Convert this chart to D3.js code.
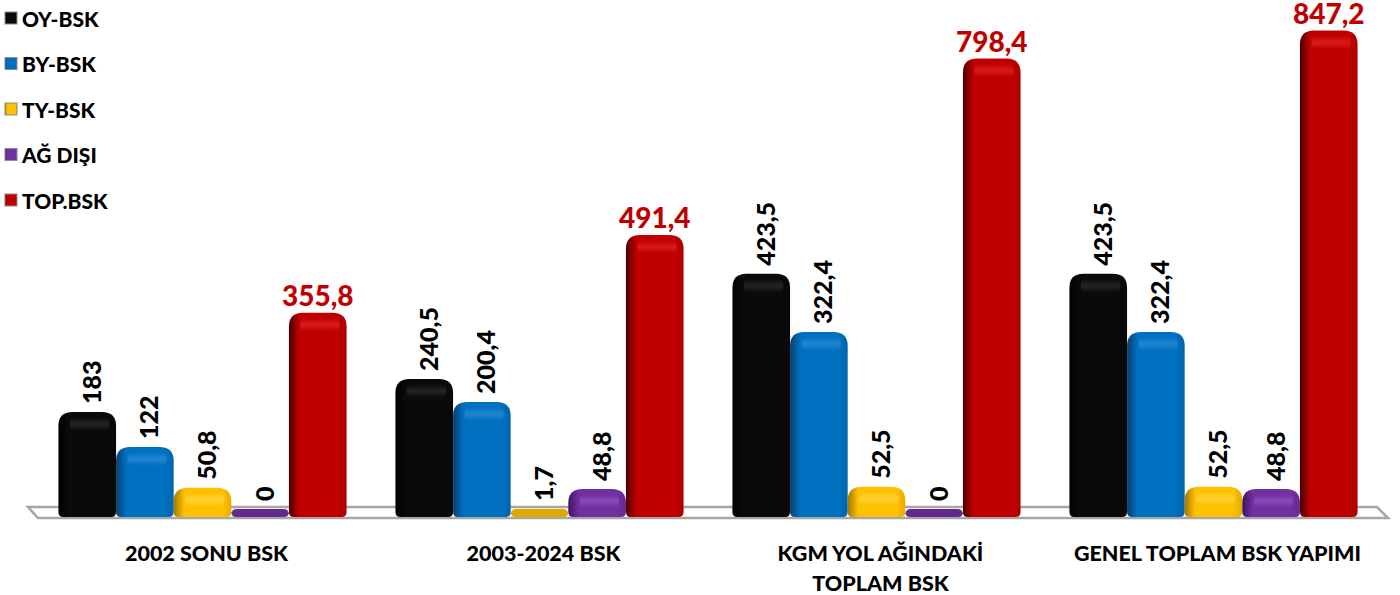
<!DOCTYPE html>
<html>
<head>
<meta charset="utf-8">
<script src="https://cdn.jsdelivr.net/npm/d3@7"></script>
<style>
  body { margin: 0; background: #fff; }
  svg { font-family: Lato, "Open Sans", sans-serif; font-weight: 900; }
  .value { font-size: 25px; fill: #000; }
  .value-total { font-size: 28px; fill: #c00000; }
  .category { font-size: 21.5px; fill: #000; }
  .legend-label { font-size: 21px; fill: #000; }
</style>
</head>
<body>
<div id="wrapper"></div>
<script>
// Chart data
const categories = [
  ["2002 SONU BSK"],
  ["2003-2024 BSK"],
  ["KGM YOL AĞINDAKİ", "TOPLAM BSK"],
  ["GENEL TOPLAM BSK YAPIMI"],
];
const series = ["OY-BSK", "BY-BSK", "TY-BSK", "AĞ DIŞI", "TOP.BSK"];
const oyBsk = [183, 240.5, 423.5, 423.5];
const byBsk = [122, 200.4, 322.4, 322.4];
const tyBsk = [50.8, 1.7, 52.5, 52.5];
const agDisi = [0, 48.8, 0, 48.8];
const topBsk = [355.8, 491.4, 798.4, 847.2];
const seriesValues = [oyBsk, byBsk, tyBsk, agDisi, topBsk];

const seriesColors = {
  "OY-BSK": { base: "#0a0a0a", dark: "#000000", light: "#3a3a3a" },
  "BY-BSK": { base: "#0070c0", dark: "#0a3f6e", light: "#3a98e0" },
  "TY-BSK": { base: "#ffc000", dark: "#a07800", light: "#ffe060" },
  "AĞ DIŞI": { base: "#7030a0", dark: "#3e1560", light: "#9a5ccc" },
  "TOP.BSK": { base: "#c00000", dark: "#4a0000", light: "#f03030" },
};

const width = 1400;
const height = 595;
const baseY = 517;

const svg = d3.select("#wrapper")
  .append("svg")
    .attr("width", width)
    .attr("height", height);

const defs = svg.append("defs");

// gradients: horizontal shading for the bar body, vertical one for the top cap
series.forEach((s, i) => {
  const c = seriesColors[s];
  const g = defs.append("linearGradient")
    .attr("id", `body-${i}`)
    .attr("x1", "0%").attr("x2", "100%");
  [[0, c.dark], [0.18, c.base], [0.85, c.base], [1, d3.color(c.base).darker(0.3)]]
    .forEach(([o, col]) => g.append("stop").attr("offset", o).attr("stop-color", col));

  const cap = defs.append("linearGradient")
    .attr("id", `cap-${i}`)
    .attr("x1", "0%").attr("x2", "0%").attr("y1", "0%").attr("y2", "100%");
  cap.append("stop").attr("offset", 0).attr("stop-color", c.light).attr("stop-opacity", 0.0);
  cap.append("stop").attr("offset", 0.5).attr("stop-color", c.light).attr("stop-opacity", 0.55);
  cap.append("stop").attr("offset", 1).attr("stop-color", c.light).attr("stop-opacity", 0.0);
});

// Scales
const x0 = d3.scaleBand()
  .domain(d3.range(categories.length))
  .range([34, 1382])
  .paddingInner(0.145)
  .paddingOuter(0.0725);

const x1 = d3.scaleBand()
  .domain(series)
  .range([0, x0.bandwidth()]);

const y = d3.scaleLinear()
  .domain([0, 850])
  .range([baseY, 29]);

// Floor
const floorLeft = x0.range()[0] - 6;
const floorRight = x0.range()[1] - 5;
svg.append("path")
  .attr("d", `M${floorLeft},${baseY - 10} L${floorRight},${baseY - 10} L${floorRight + 11},${baseY + 1} L${floorLeft + 10},${baseY + 1} Z`)
  .attr("fill", "#fff")
  .attr("stroke", "#a6a6a6")
  .attr("stroke-width", 2.5);

function barPath(x, top, w, bottom) {
  const h = bottom - top;
  const r = Math.min(14, h * 0.7);
  const rb = 5;
  return `M${x},${bottom - rb} L${x},${top + r} Q${x},${top} ${x + r},${top} ` +
    `L${x + w - r},${top} Q${x + w},${top} ${x + w},${top + r} ` +
    `L${x + w},${bottom - rb} Q${x + w},${bottom} ${x + w - rb},${bottom} ` +
    `L${x + rb},${bottom} Q${x},${bottom} ${x},${bottom - rb} Z`;
}

const barData = [];
categories.forEach((cat, ci) => {
  series.forEach((s, si) => {
    barData.push({ ci, si, s, value: seriesValues[si][ci] });
  });
});

const minBarHeight = 8;
const barTop = d => Math.min(y(d.value), baseY - minBarHeight);
const barX = d => x0(d.ci) + x1(d.s);

const bars = svg.append("g").selectAll("g")
  .data(barData)
  .join("g");

// very short bars look like a flat darker disc in the original
bars.append("path")
  .attr("d", d => barPath(barX(d), barTop(d), x1.bandwidth(), baseY))
  .attr("fill", d => baseY - y(d.value) < minBarHeight
    ? d3.color(seriesColors[d.s].base).darker(0.35)
    : `url(#body-${d.si})`);

// soft highlight just under the rounded top
bars.filter(d => baseY - barTop(d) > 24)
  .append("rect")
    .attr("x", d => barX(d) + x1.bandwidth() * 0.2)
    .attr("y", d => barTop(d) + 5)
    .attr("width", x1.bandwidth() * 0.68)
    .attr("height", 14)
    .attr("rx", 5)
    .attr("fill", d => `url(#cap-${d.si})`);

// Value labels: rotated for the first four series, horizontal red for total
bars.filter(d => d.s !== "TOP.BSK")
  .append("text")
    .attr("class", "value")
    .attr("transform", d => `translate(${barX(d) + x1.bandwidth() / 2 + 7},${barTop(d) - 8}) rotate(-90)`)
    .attr("dominant-baseline", "middle")
    .text(d => d3.format(",")(d.value).replace(".", ","));

bars.filter(d => d.s === "TOP.BSK")
  .append("text")
    .attr("class", "value-total")
    .attr("x", d => barX(d) + x1.bandwidth() / 2)
    .attr("y", d => barTop(d) - 7)
    .attr("text-anchor", "middle")
    .text(d => d3.format(".1f")(d.value).replace(".", ","));

// Category labels
svg.append("g").selectAll("text")
  .data(categories)
  .join("text")
    .attr("class", "category")
    .attr("x", (d, i) => x0(i) + x0.bandwidth() / 2 + 4)
    .attr("y", 561)
    .attr("text-anchor", "middle")
    .selectAll("tspan")
    .data(d => d)
    .join("tspan")
      .attr("x", function() { return d3.select(this.parentNode).attr("x"); })
      .attr("dy", (d, i) => i === 0 ? 0 : 30)
      .text(d => d);

// Legend
const legend = svg.append("g").selectAll("g")
  .data(series)
  .join("g")
    .attr("transform", (d, i) => `translate(5, ${18 + i * 45.5})`);

legend.append("rect")
  .attr("y", -6)
  .attr("width", 12)
  .attr("height", 12)
  .attr("fill", (d, i) => `url(#body-${i})`)
  .attr("stroke", "#8c8c8c")
  .attr("stroke-width", 1);

legend.append("text")
  .attr("class", "legend-label")
  .attr("x", 17)
  .attr("y", 0)
  .attr("dominant-baseline", "central")
  .text(d => d);
</script>
</body>
</html>
